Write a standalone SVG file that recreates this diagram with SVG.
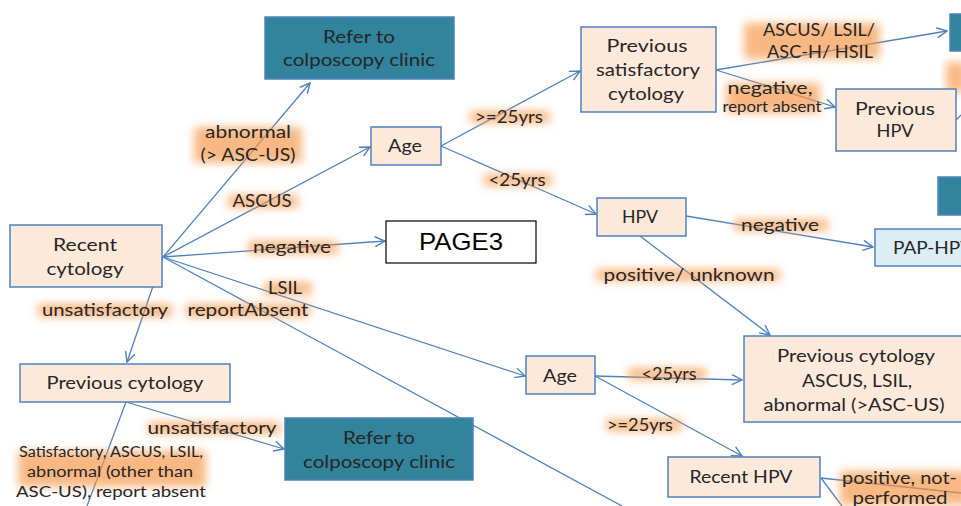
<svg xmlns="http://www.w3.org/2000/svg" width="961" height="506" viewBox="0 0 961 506">
<defs>
<style>
.box{fill:#FDE9D9;stroke:#4F81BD;stroke-width:1.5}
.teal{fill:#31849B;stroke:#4F81BD;stroke-width:1.5}
.blue{fill:#DBEEF4;stroke:#4F81BD;stroke-width:1.5}
.t{font-family:Lato,"Liberation Sans",sans-serif;font-size:17.5px;fill:#262626;text-anchor:middle}
.s{font-size:14.5px}
.e{fill:none;stroke:#4F81BD;stroke-width:1.3;marker-end:url(#arr)}
.n{fill:none;stroke:#4F81BD;stroke-width:1.3}
.g{fill:#F79646;opacity:0.68;filter:url(#blur)}
</style>
<filter id="blur" x="-30%" y="-80%" width="160%" height="260%"><feGaussianBlur stdDeviation="5"/></filter>
<marker id="arr" viewBox="0 0 12 12" refX="11" refY="6" markerWidth="12" markerHeight="12" orient="auto" markerUnits="userSpaceOnUse"><path d="M1,1 L11,6 L1,11" fill="none" stroke="#4F81BD" stroke-width="1.4"/></marker>
</defs>
<rect width="961" height="506" fill="#FFFFFF"/>
<g id="connectors">
<path class="e" d="M163,257 L310,83"/>
<path class="e" d="M163,257 L370,147"/>
<path class="e" d="M163,257 L385,241"/>
<path class="e" d="M163,257 L525,376"/>
<path class="n" d="M163,257 L622,506"/>
<path class="e" d="M163,257 L127,362"/>
<path class="e" d="M441,146 L580,71"/>
<path class="e" d="M441,146 L596,214"/>
<path class="e" d="M716,70 L947,31"/>
<path class="e" d="M716,70 L835,107"/>
<path class="e" d="M686,216 L873,247"/>
<path class="e" d="M640,236 L770,335"/>
<path class="e" d="M595,376 L742,380"/>
<path class="e" d="M595,376 L742,456"/>
<path class="e" d="M126,402 L284,449"/>
<path class="n" d="M126,402 L87,506"/>
<path class="n" d="M821,478 L961,493"/>
<path class="n" d="M821,478 L842,506"/>
<path class="n" d="M956,120 L961,115"/>
</g>
<g id="labels">
<rect class="g" x="194" y="127" width="108" height="36"/>
<rect class="g" x="228" y="195" width="70" height="13"/>
<rect class="g" x="248" y="241" width="90" height="13"/>
<rect class="g" x="264" y="282" width="48" height="13"/>
<rect class="g" x="186" y="304" width="124" height="13"/>
<rect class="g" x="38" y="304" width="134" height="13"/>
<rect class="g" x="470" y="111" width="80" height="12"/>
<rect class="g" x="484" y="174" width="68" height="12"/>
<rect class="g" x="744" y="23" width="136" height="36"/>
<rect class="g" x="726" y="83" width="94" height="30"/>
<rect class="g" x="734" y="219" width="94" height="12"/>
<rect class="g" x="596" y="269" width="184" height="12"/>
<rect class="g" x="628" y="368" width="78" height="12"/>
<rect class="g" x="606" y="419" width="76" height="12"/>
<rect class="g" x="148" y="422" width="132" height="12"/>
<rect class="g" x="18" y="451" width="188" height="36"/>
<rect class="g" x="840" y="471" width="128" height="34"/>
<rect class="g" x="946" y="62" width="20" height="30"/>
<text class="t" x="248" y="138" textLength="86" lengthAdjust="spacingAndGlyphs">abnormal</text>
<text class="t" x="248" y="161" textLength="95" lengthAdjust="spacingAndGlyphs">(&gt; ASC-US)</text>
<text class="t" x="262" y="207" textLength="59" lengthAdjust="spacingAndGlyphs">ASCUS</text>
<text class="t" x="292" y="253" textLength="78" lengthAdjust="spacingAndGlyphs">negative</text>
<text class="t" x="285" y="294" textLength="34" lengthAdjust="spacingAndGlyphs">LSIL</text>
<text class="t" x="248" y="316" textLength="121" lengthAdjust="spacingAndGlyphs">reportAbsent</text>
<text class="t" x="105" y="316" textLength="126" lengthAdjust="spacingAndGlyphs">unsatisfactory</text>
<text class="t" x="509" y="123" textLength="68" lengthAdjust="spacingAndGlyphs">&gt;=25yrs</text>
<text class="t" x="517" y="186" textLength="57" lengthAdjust="spacingAndGlyphs">&lt;25yrs</text>
<text class="t" x="819" y="36" textLength="112" lengthAdjust="spacingAndGlyphs">ASCUS/ LSIL/</text>
<text class="t" x="820" y="58" textLength="106" lengthAdjust="spacingAndGlyphs">ASC-H/ HSIL</text>
<text class="t" x="770" y="94" textLength="85" lengthAdjust="spacingAndGlyphs">negative,</text>
<text class="t s" x="772" y="112" textLength="99" lengthAdjust="spacingAndGlyphs">report absent</text>
<text class="t" x="780" y="231" textLength="78" lengthAdjust="spacingAndGlyphs">negative</text>
<text class="t" x="689" y="281" textLength="171" lengthAdjust="spacingAndGlyphs">positive/ unknown</text>
<text class="t" x="669" y="380" textLength="55" lengthAdjust="spacingAndGlyphs">&lt;25yrs</text>
<text class="t" x="640" y="431" textLength="66" lengthAdjust="spacingAndGlyphs">&gt;=25yrs</text>
<text class="t" x="212" y="434" textLength="129" lengthAdjust="spacingAndGlyphs">unsatisfactory</text>
<text class="t s" x="111" y="457" textLength="184" lengthAdjust="spacingAndGlyphs">Satisfactory, ASCUS, LSIL,</text>
<text class="t s" x="110" y="477" textLength="166" lengthAdjust="spacingAndGlyphs">abnormal (other than</text>
<text class="t s" x="111" y="497" textLength="190" lengthAdjust="spacingAndGlyphs">ASC-US), report absent</text>
<text class="t" x="842" y="484" style="text-anchor:start" textLength="115" lengthAdjust="spacingAndGlyphs">positive, not-</text>
<text class="t" x="900" y="504" textLength="95" lengthAdjust="spacingAndGlyphs">performed</text>
</g>
<g id="refer-top"><rect class="teal" x="265" y="17" width="189" height="62"/><text class="t" x="359" y="43" textLength="72" lengthAdjust="spacingAndGlyphs">Refer to</text><text class="t" x="359" y="66" textLength="152" lengthAdjust="spacingAndGlyphs">colposcopy clinic</text></g>
<g id="age-top"><rect class="box" x="371" y="127" width="70" height="38"/><text class="t" x="405" y="152" textLength="34" lengthAdjust="spacingAndGlyphs">Age</text></g>
<g id="prev-sat"><rect class="box" x="581" y="27" width="135" height="85"/><text class="t" x="647" y="52" textLength="81" lengthAdjust="spacingAndGlyphs">Previous</text><text class="t" x="648" y="76" textLength="104" lengthAdjust="spacingAndGlyphs">satisfactory</text><text class="t" x="646" y="100" textLength="76" lengthAdjust="spacingAndGlyphs">cytology</text></g>
<g id="teal-tr"><rect class="teal" x="950" y="14" width="20" height="37"/></g>
<g id="prev-hpv"><rect class="box" x="836" y="89" width="120" height="62"/><text class="t" x="895" y="115" textLength="80" lengthAdjust="spacingAndGlyphs">Previous</text><text class="t" x="895" y="137" textLength="37" lengthAdjust="spacingAndGlyphs">HPV</text></g>
<g id="teal-r"><rect class="teal" x="938" y="177" width="30" height="38"/></g>
<g id="recent-cyt"><rect class="box" x="10" y="225" width="152" height="62"/><text class="t" x="85" y="251" textLength="64" lengthAdjust="spacingAndGlyphs">Recent</text><text class="t" x="85" y="275" textLength="77" lengthAdjust="spacingAndGlyphs">cytology</text></g>
<g id="page3"><rect x="386" y="221" width="150" height="42" fill="#FFFFFF" stroke="#000000" stroke-width="1.2"/><text x="461" y="250" font-family="Liberation Sans,Arial,sans-serif" font-size="24" text-anchor="middle" fill="#000000" textLength="84" lengthAdjust="spacingAndGlyphs">PAGE3</text></g>
<g id="hpv"><rect class="box" x="597" y="198" width="89" height="38"/><text class="t" x="640" y="223" textLength="36" lengthAdjust="spacingAndGlyphs">HPV</text></g>
<g id="pap-hpv"><rect class="blue" x="875" y="229" width="100" height="37"/><text class="t" x="893" y="254" style="text-anchor:start" textLength="80" lengthAdjust="spacingAndGlyphs">PAP-HPV</text></g>
<g id="prev-cyt-left"><rect class="box" x="20" y="364" width="210" height="38"/><text class="t" x="125" y="389" textLength="157" lengthAdjust="spacingAndGlyphs">Previous cytology</text></g>
<g id="age-bottom"><rect class="box" x="526" y="356" width="69" height="38"/><text class="t" x="560" y="382" textLength="34" lengthAdjust="spacingAndGlyphs">Age</text></g>
<g id="prev-cyt-abn"><rect class="box" x="744" y="336" width="230" height="86"/><text class="t" x="856" y="362" textLength="158" lengthAdjust="spacingAndGlyphs">Previous cytology</text><text class="t" x="857" y="387" textLength="110" lengthAdjust="spacingAndGlyphs">ASCUS, LSIL,</text><text class="t" x="854" y="411" textLength="181" lengthAdjust="spacingAndGlyphs">abnormal (&gt;ASC-US)</text></g>
<g id="refer-bottom"><rect class="teal" x="285" y="418" width="188" height="62"/><text class="t" x="379" y="444" textLength="72" lengthAdjust="spacingAndGlyphs">Refer to</text><text class="t" x="379" y="468" textLength="152" lengthAdjust="spacingAndGlyphs">colposcopy clinic</text></g>
<g id="recent-hpv"><rect class="box" x="668" y="457" width="152" height="40"/><text class="t" x="741" y="483" textLength="103" lengthAdjust="spacingAndGlyphs">Recent HPV</text></g>
</svg>
